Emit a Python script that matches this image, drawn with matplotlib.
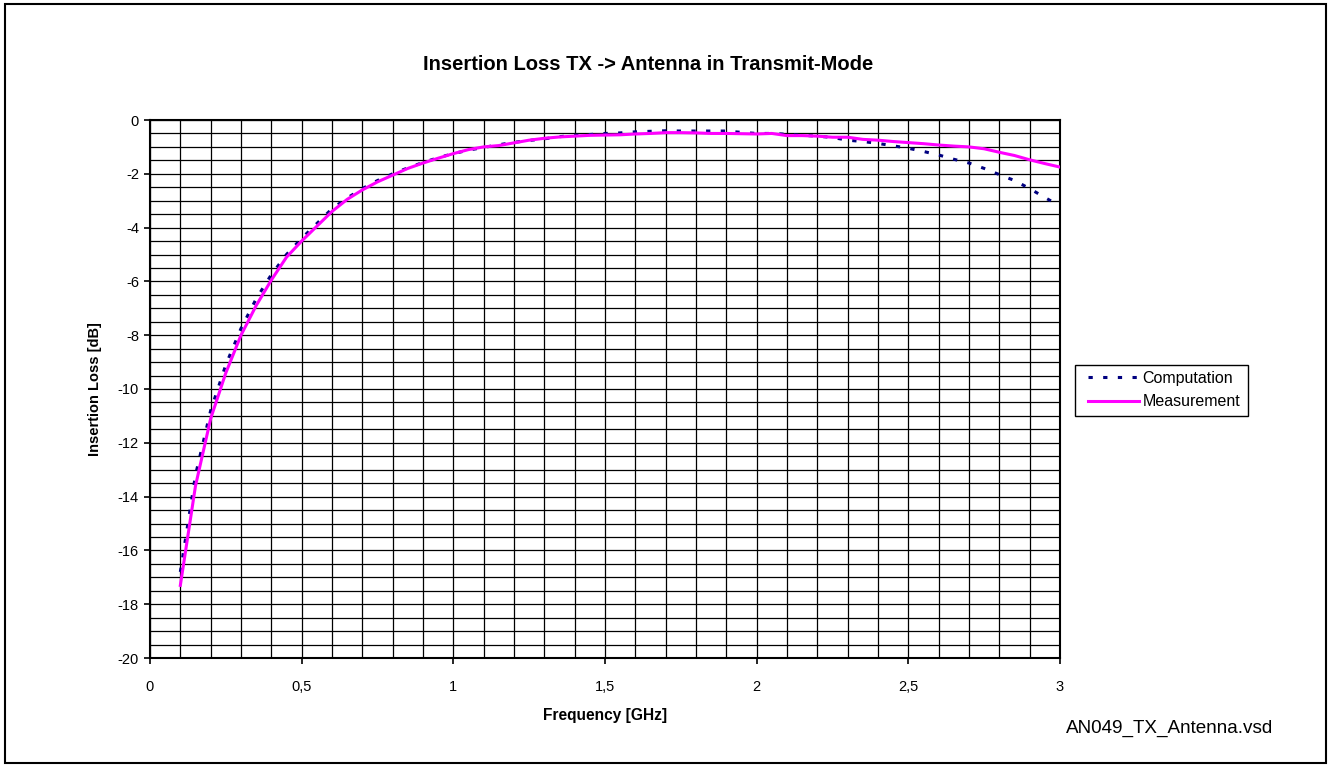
import matplotlib.pyplot as plt
import numpy as np
from matplotlib.lines import Line2D
from matplotlib.patches import Rectangle

plt.rcParams['font.family'] = ['Liberation Sans', 'DejaVu Sans']

freq = [0.10, 0.15, 0.20, 0.25, 0.30, 0.35, 0.40, 0.45, 0.50, 0.55,
        0.60, 0.65, 0.70, 0.75, 0.80, 0.85, 0.90, 0.95, 1.00, 1.05,
        1.10, 1.15, 1.20, 1.25, 1.30, 1.35, 1.40, 1.45, 1.50, 1.55,
        1.60, 1.65, 1.70, 1.75, 1.80, 1.85, 1.90, 1.95, 2.00, 2.05,
        2.10, 2.15, 2.20, 2.25, 2.30, 2.35, 2.40, 2.45, 2.50, 2.55,
        2.60, 2.65, 2.70, 2.75, 2.80, 2.85, 2.90, 2.95, 3.00]

computation = [-16.8, -13.2, -10.8, -9.1, -7.75, -6.65, -5.75, -5.0, -4.4, -3.85,
               -3.3, -2.9, -2.55, -2.25, -2.0, -1.78, -1.58, -1.4, -1.25, -1.12,
               -1.02, -0.92, -0.83, -0.76, -0.7, -0.62, -0.57, -0.54, -0.5, -0.48,
               -0.44, -0.42, -0.4, -0.41, -0.41, -0.41, -0.41, -0.46, -0.5, -0.5,
               -0.53, -0.57, -0.6, -0.65, -0.75, -0.8, -0.87, -0.96, -1.05, -1.17,
               -1.3, -1.46, -1.6, -1.8, -2.03, -2.25, -2.55, -2.88, -3.2]

measurement = [-17.3, -13.6, -11.1, -9.4, -8.0, -6.9, -5.95, -5.1, -4.5, -3.95,
               -3.4, -2.95, -2.6, -2.3, -2.05, -1.8, -1.6, -1.42, -1.25, -1.1,
               -1.0, -0.95, -0.85, -0.75, -0.68, -0.63, -0.6, -0.57, -0.56, -0.55,
               -0.52, -0.5, -0.47, -0.47, -0.48, -0.5, -0.5, -0.51, -0.52, -0.5,
               -0.58, -0.58, -0.6, -0.64, -0.64, -0.72, -0.75, -0.8, -0.84, -0.88,
               -0.93, -0.97, -1.0, -1.07, -1.2, -1.32, -1.48, -1.62, -1.75]

xticks = [0, 0.5, 1, 1.5, 2, 2.5, 3]
xtick_labels = ['0', '0,5', '1', '1,5', '2', '2,5', '3']
yticks = [0, -2, -4, -6, -8, -10, -12, -14, -16, -18, -20]
ytick_labels = ['0', '-2', '-4', '-6', '-8', '-10', '-12', '-14', '-16', '-18', '-20']

W, H = 1329, 765
fig = plt.figure(figsize=(W / 100, H / 100), dpi=100)
ax = fig.add_axes([150 / W, 1 - 658 / H, 910 / W, 538 / H])

comp_style = (0, (1.4, 3.4))
ax.plot(freq, computation, color='#000080', lw=2.2, linestyle=comp_style, zorder=3)
ax.plot(freq, measurement, color='#ff00ff', lw=2.2, zorder=4)

ax.set_xlim(0, 3)
ax.set_ylim(-20, 0)
ax.set_xticks(xticks)
ax.set_xticklabels(xtick_labels, fontsize=10.5)
ax.set_yticks(yticks)
ax.set_yticklabels(ytick_labels, fontsize=10.5)
ax.set_xticks(np.arange(0, 3.01, 0.1), minor=True)
ax.set_yticks(np.arange(-20, 0.01, 0.5), minor=True)
ax.grid(which='both', color='black', lw=0.9)
ax.tick_params(which='major', direction='out', length=4, width=1.2)
ax.tick_params(axis='x', which='major', pad=12)
ax.tick_params(axis='y', which='major', pad=4)
ax.tick_params(which='minor', length=0)
for s in ax.spines.values():
    s.set_linewidth(1.5)

fig.text(648 / W, 1 - 64 / H, 'Insertion Loss TX -> Antenna in Transmit-Mode',
         fontsize=14.5, fontweight='bold', ha='center', va='center')
ax.set_xlabel('Frequency [GHz]', fontsize=11.2, fontweight='bold', labelpad=10)
ax.set_ylabel('Insertion Loss [dB]', fontsize=10.5, fontweight='bold', labelpad=11)

handles = [Line2D([], [], color='#000080', lw=2.2, linestyle=comp_style),
           Line2D([], [], color='#ff00ff', lw=2.2)]
leg = fig.legend(handles, ['Computation', 'Measurement'], loc='center left',
                 bbox_to_anchor=(1088 / W, 1 - 390 / H), fontsize=11.5,
                 frameon=False, handlelength=3.2, handletextpad=0.2,
                 borderpad=0, labelspacing=0.55, borderaxespad=0)
fig.patches.append(Rectangle((1075 / W, 1 - 416 / H), 173 / W, 51 / H,
                             transform=fig.transFigure, fill=False,
                             edgecolor='black', lw=1.0))

fig.text(1273 / W, 1 - 728 / H, 'AN049_TX_Antenna.vsd', fontsize=13.6,
         ha='right', va='center')

fig.patches.append(Rectangle((5 / W, 2 / H), 1321 / W, 759 / H,
                             transform=fig.transFigure, fill=False,
                             edgecolor='black', lw=1.5))

fig.savefig('out.png', dpi=100)
